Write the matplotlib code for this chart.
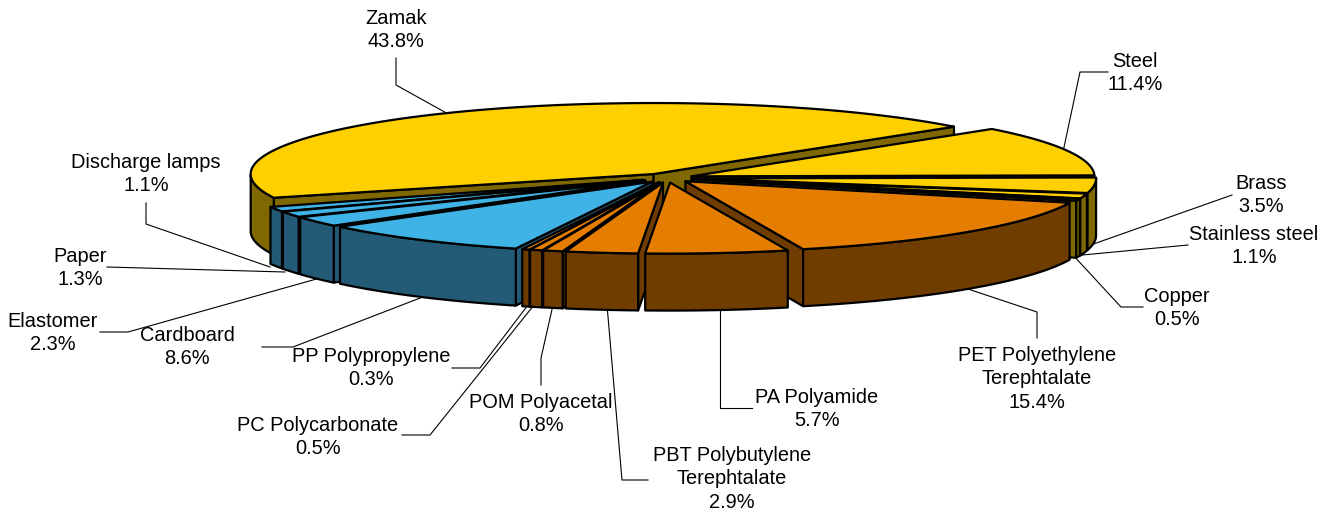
import numpy as np
import matplotlib
matplotlib.use('Agg')
import matplotlib.pyplot as plt
from matplotlib.patches import Polygon

plt.rcParams['font.family'] = ['Liberation Sans', 'DejaVu Sans']

materials = ['Zamak', 'Steel', 'Brass', 'Stainless steel', 'Copper',
             'PET Polyethylene\nTerephtalate', 'PA Polyamide',
             'PBT Polybutylene\nTerephtalate', 'POM Polyacetal',
             'PC Polycarbonate', 'PP Polypropylene', 'Cardboard',
             'Elastomer', 'Paper', 'Discharge lamps']
shares = [43.8, 11.4, 3.5, 1.1, 0.5, 15.4, 5.7, 2.9, 0.8, 0.5, 0.3, 8.6, 2.3, 1.3, 1.1]
groups = ['metal'] * 5 + ['plastic'] * 6 + ['fibre'] * 4

top_colors = {'metal': '#FFD000', 'plastic': '#E57E00', 'fibre': '#40B3E6'}
side_colors = {'metal': '#806800', 'plastic': '#703D00', 'fibre': '#235A75'}

# pie geometry in pixels
cx, cy = 667, 178
rx, ry = 403, 71
depth = 57
explode = 0.065
start_angle = 199.5

# label centre, then the leader line from the label to the pie
label_pos = [(396, 30), (1135, 73), (1261, 195), (1254, 246), (1177, 308),
             (1037, 379), (817, 409), (732, 479), (541, 414),
             (318, 437), (371, 368), (187, 347), (53, 333), (80, 268), (146, 174)]
leaders = [
    [(396, 58), (396, 85), (450, 115)],
    [(1108, 72), (1080, 72), (1063, 152)],
    [(1232, 195), (1085, 247)],
    [(1188, 245), (1072, 256)],
    [(1143, 307), (1121, 307), (1072, 254)],
    [(1037, 338), (1037, 312), (965, 288)],
    [(752, 408), (720, 408), (720, 305)],
    [(648, 480), (622, 480), (607, 305)],
    [(541, 385), (541, 358), (553, 305)],
    [(402, 435), (430, 435), (534, 305)],
    [(452, 368), (480, 368), (528, 305)],
    [(262, 347), (293, 347), (428, 295)],
    [(100, 332), (128, 332), (320, 278)],
    [(107, 267), (285, 272)],
    [(146, 203), (146, 224), (270, 267)],
]

fig = plt.figure(figsize=(13.31, 5.15), dpi=100)
ax = fig.add_axes([0, 0, 1, 1])
ax.set_xlim(0, 1331)
ax.set_ylim(515, 0)
ax.axis('off')


def rim(apex, t):
    return np.column_stack([apex[0] + rx * np.cos(t), apex[1] - ry * np.sin(t)])


def draw_slice(t1, t2, group, z):
    # t1 > t2, slices run clockwise
    mid = (t1 + t2) / 2
    apex = (cx + explode * rx * np.cos(mid), cy - explode * ry * np.sin(mid))
    arc = rim(apex, np.linspace(t1, t2, 120))
    top = top_colors[group]
    side = side_colors[group]
    style = dict(edgecolor='black', linewidth=1.6, joinstyle='round', zorder=z)

    # cut faces, only the ones turned to the viewer
    for end, other in ((arc[0], arc[-1]), (arc[-1], arc[0])):
        d = end - apex
        # interior above the edge line on screen
        inside_up = (other[1] - apex[1]) - d[1] / d[0] * (other[0] - apex[0]) < 0
        if inside_up:
            quad = [apex, end, end + (0, depth), (apex[0], apex[1] + depth)]
            ax.add_patch(Polygon(quad, closed=True, facecolor=side, **style))

    # outer wall, front half of the rim only
    ts = np.linspace(t1, t2, 120)
    front = ts[np.sin(ts) <= 0]
    if len(front) > 1:
        upper = rim(apex, front)
        lower = upper + (0, depth)
        ax.add_patch(Polygon(np.vstack([upper, lower[::-1]]), closed=True,
                             facecolor=side, **style))

    ax.add_patch(Polygon(np.vstack([[apex], arc]), closed=True, facecolor=top, **style))


angles = np.radians(start_angle - np.cumsum([0] + shares) * 3.6)
slices = []
for i in range(len(shares)):
    slices.append((angles[i], angles[i + 1], groups[i]))

# far slices first
order = sorted(slices, key=lambda s: -np.sin((s[0] + s[1]) / 2))
for n, (t1, t2, group) in enumerate(order):
    draw_slice(t1, t2, group, 5 + n)

for pts in leaders:
    xs, ys = zip(*pts)
    ax.plot(xs, ys, color='black', lw=0.8, zorder=2)

for name, share, (x, y) in zip(materials, shares, label_pos):
    ax.text(x, y, f'{name}\n{share:.1f}%', ha='center', va='center', fontsize=14.4,
            linespacing=1.27, color='black', zorder=40)

fig.savefig('out.png', dpi=100)
plt.close()
